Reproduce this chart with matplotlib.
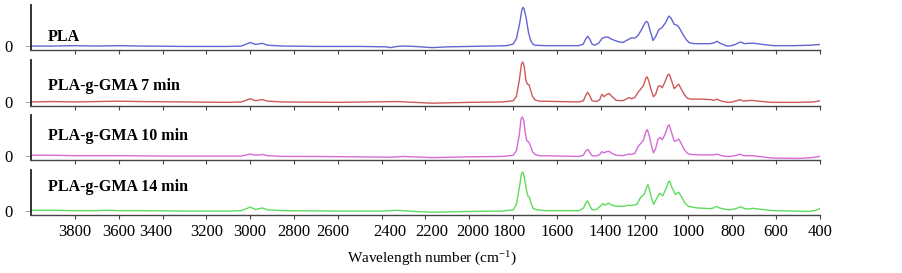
import matplotlib
matplotlib.use("Agg")
import matplotlib.pyplot as plt
import matplotlib.transforms as mtransforms

plt.rcParams['font.family'] = ['Liberation Serif', 'DejaVu Serif']
plt.rcParams['mathtext.fontset'] = 'stix'

# ---- data (wavenumber cm-1, relative absorbance) ----
pla_wn = [4000, 3900, 3800, 3700, 3600, 3500, 3300, 3100, 3040, 3000, 2975, 2945, 2920, 2850,
          2700, 2500, 2380, 2360, 2330, 2300, 2250, 2170, 2100, 2000, 1900, 1830, 1800, 1785,
          1770, 1760, 1755, 1750, 1740, 1730, 1720, 1710, 1700, 1650, 1500, 1480, 1470, 1460,
          1450, 1440, 1430, 1410, 1395, 1380, 1365, 1350, 1320, 1300, 1280, 1260, 1245, 1230,
          1215, 1200, 1192, 1185, 1175, 1162, 1150, 1135, 1120, 1105, 1090, 1080, 1065, 1050,
          1040, 1025, 1010, 995, 970, 900, 885, 870, 855, 830, 815, 790, 770, 760, 745, 725,
          700, 660, 613, 520, 450, 400]
pla_abs = [0.01, 0.01, 0.02, 0.01, 0.02, 0.01, 0.0, 0.0, 0.01, 0.10, 0.05, 0.08, 0.03, 0.01,
           0.0, 0.0, -0.01, -0.03, 0.0, 0.01, 0.0, -0.03, -0.01, 0.0, 0.01, 0.02, 0.06, 0.2,
           0.6, 0.93, 0.99, 0.95, 0.7, 0.35, 0.15, 0.06, 0.03, 0.02, 0.02, 0.06, 0.18, 0.26,
           0.18, 0.06, 0.03, 0.08, 0.2, 0.24, 0.23, 0.18, 0.12, 0.1, 0.16, 0.22, 0.21, 0.28,
           0.42, 0.58, 0.64, 0.6, 0.4, 0.15, 0.25, 0.43, 0.48, 0.6, 0.77, 0.72, 0.56, 0.53,
           0.45, 0.3, 0.17, 0.09, 0.07, 0.07, 0.09, 0.13, 0.08, 0.02, 0.01, 0.04, 0.1, 0.11,
           0.07, 0.08, 0.08, 0.05, 0.02, 0.02, 0.03, 0.05]

gma7_wn = [4000, 3900, 3800, 3700, 3600, 3500, 3300, 3100, 3040, 3000, 2975, 2945, 2920, 2850,
           2600, 2330, 2250, 2170, 2000, 1850, 1800, 1785, 1772, 1762, 1756, 1750, 1742, 1735,
           1728, 1720, 1712, 1700, 1680, 1500, 1480, 1468, 1460, 1452, 1440, 1420, 1405, 1395,
           1385, 1375, 1362, 1350, 1330, 1300, 1285, 1272, 1260, 1245, 1230, 1215, 1205, 1195,
           1188, 1180, 1170, 1160, 1150, 1138, 1128, 1120, 1108, 1095, 1088, 1078, 1065, 1055,
           1045, 1035, 1020, 1005, 990, 940, 900, 885, 870, 855, 830, 810, 780, 765, 750, 735,
           710, 680, 620, 500, 430, 400]
gma7_abs = [0.01, 0.02, 0.01, 0.02, 0.03, 0.02, 0.01, 0.0, 0.01, 0.09, 0.04, 0.07, 0.03, 0.01,
            0.0, 0.02, 0.0, -0.02, 0.0, 0.01, 0.04, 0.15, 0.55, 0.95, 1.0, 0.9, 0.55, 0.45,
            0.44, 0.3, 0.15, 0.06, 0.03, 0.01, 0.04, 0.18, 0.25, 0.18, 0.04, 0.02, 0.07, 0.2,
            0.14, 0.19, 0.22, 0.15, 0.05, 0.04, 0.08, 0.12, 0.09, 0.12, 0.25, 0.35, 0.42, 0.6,
            0.63, 0.5, 0.3, 0.14, 0.2, 0.4, 0.41, 0.36, 0.5, 0.68, 0.70, 0.55, 0.34, 0.4,
            0.45, 0.35, 0.2, 0.1, 0.08, 0.08, 0.07, 0.05, 0.08, 0.04, 0.01, 0.0, 0.04, 0.07,
            0.03, 0.04, 0.05, 0.03, 0.0, 0.0, 0.01, 0.04]

gma10_wn = [4000, 3900, 3800, 3700, 3600, 3400, 3200, 3040, 3000, 2975, 2945, 2920, 2850, 2700,
            2360, 2300, 2170, 2000, 1850, 1800, 1785, 1772, 1764, 1758, 1752, 1745, 1738, 1728,
            1720, 1712, 1700, 1680, 1500, 1480, 1468, 1460, 1452, 1440, 1420, 1405, 1395, 1385,
            1375, 1362, 1350, 1330, 1300, 1285, 1272, 1260, 1245, 1230, 1215, 1205, 1195, 1188,
            1180, 1170, 1160, 1150, 1138, 1128, 1120, 1108, 1095, 1088, 1078, 1065, 1055, 1045,
            1035, 1020, 1005, 990, 940, 900, 885, 870, 855, 830, 810, 780, 765, 750, 735, 710,
            680, 620, 500, 440, 400]
gma10_abs = [0.03, 0.03, 0.02, 0.02, 0.02, 0.01, 0.01, 0.01, 0.06, 0.03, 0.05, 0.02, 0.0, 0.0,
             -0.02, 0.0, -0.03, -0.01, 0.0, 0.03, 0.15, 0.55, 0.95, 1.0, 0.92, 0.6, 0.4, 0.36,
             0.25, 0.12, 0.05, 0.02, 0.0, 0.03, 0.14, 0.18, 0.12, 0.02, 0.01, 0.05, 0.12, 0.09,
             0.12, 0.13, 0.08, 0.03, 0.02, 0.04, 0.06, 0.05, 0.08, 0.25, 0.35, 0.42, 0.62, 0.68,
             0.55, 0.3, 0.09, 0.2, 0.45, 0.48, 0.42, 0.55, 0.76, 0.80, 0.62, 0.38, 0.4, 0.44,
             0.35, 0.18, 0.08, 0.05, 0.04, 0.04, 0.04, 0.06, 0.03, 0.0, 0.0, 0.03, 0.06, 0.02,
             0.02, 0.02, 0.0, -0.04, -0.05, -0.03, 0.0]

gma14_wn = [4000, 3900, 3800, 3700, 3650, 3600, 3500, 3300, 3100, 3040, 3000, 2975, 2945, 2920,
            2850, 2600, 2400, 2330, 2250, 2170, 2000, 1850, 1800, 1785, 1772, 1762, 1756, 1750,
            1740, 1732, 1726, 1718, 1708, 1690, 1650, 1500, 1480, 1468, 1461, 1452, 1440, 1420,
            1405, 1391, 1380, 1365, 1350, 1327, 1296, 1285, 1274, 1260, 1235, 1220, 1202, 1192,
            1185, 1178, 1168, 1159, 1148, 1132, 1117, 1105, 1092, 1086, 1075, 1060, 1045, 1030,
            1015, 1000, 962, 900, 885, 873, 860, 830, 810, 780, 760, 745, 730, 706, 680, 613,
            450, 420, 400]
gma14_abs = [0.03, 0.03, 0.02, 0.02, 0.03, 0.02, 0.02, 0.01, 0.01, 0.02, 0.11, 0.05, 0.09, 0.04,
             0.02, 0.01, 0.01, 0.03, 0.0, -0.02, 0.0, 0.01, 0.04, 0.18, 0.6, 0.96, 1.0, 0.9,
             0.55, 0.38, 0.36, 0.2, 0.07, 0.04, 0.02, 0.02, 0.08, 0.22, 0.27, 0.17, 0.04, 0.05,
             0.12, 0.2, 0.16, 0.21, 0.16, 0.13, 0.13, 0.14, 0.16, 0.15, 0.18, 0.34, 0.44, 0.6,
             0.68, 0.55, 0.32, 0.18, 0.3, 0.46, 0.40, 0.55, 0.74, 0.77, 0.6, 0.43, 0.49, 0.35,
             0.2, 0.13, 0.09, 0.07, 0.09, 0.13, 0.09, 0.05, 0.04, 0.08, 0.12, 0.07, 0.06, 0.08,
             0.06, 0.02, 0.0, 0.03, 0.07]

names = ['PLA', 'PLA-g-GMA 7 min', 'PLA-g-GMA 10 min', 'PLA-g-GMA 14 min']
colors = ['#6464d2', '#cc5a5a', '#d46cd4', '#5cdc5c']
series = [(pla_wn, pla_abs), (gma7_wn, gma7_abs), (gma10_wn, gma10_abs), (gma14_wn, gma14_abs)]

xticks = [3800, 3600, 3400, 3200, 3000, 2800, 2600, 2400, 2200, 2000, 1800, 1600, 1400,
          1200, 1000, 800, 600, 400]
# the original labels are a bit jostled along the axis (pixels)
label_shift = {3400: -7, 2600: -5, 2400: 8, 2200: 6, 2000: 3, 1800: -4, 1400: 4, 1200: -3}

# panel layout in pixels (top, bottom) and label height inside each panel
panels_px = [(5, 50), (60, 106), (115, 160), (170, 215)]
name_y = [0.29, 0.43, 0.53, 0.63]

W, H = 903, 273
fig = plt.figure(figsize=(W / 100, H / 100), dpi=100)

left, right = 31, 820
for i, ((top, bot), (wn, ab)) in enumerate(zip(panels_px, series)):
    ax = fig.add_axes([left / W, 1 - bot / H, (right - left) / W, (bot - top) / H])
    ax.plot(wn, ab, color=colors[i], lw=1.0)
    ax.set_xlim(4000, 400)
    ax.set_ylim(-0.09, 1.05)
    ax.spines['top'].set_visible(False)
    ax.spines['right'].set_visible(False)
    ax.spines['left'].set_linewidth(1.3)
    ax.spines['left'].set_color('#222222')
    ax.spines['bottom'].set_linewidth(1.0)
    ax.spines['bottom'].set_color('#444444')
    ax.set_yticks([0])
    ax.set_yticklabels(['0'])
    ax.tick_params(axis='y', length=4, width=0.6, color='#8899bb', pad=9, labelsize=12)
    ax.set_xticks(xticks)
    ax.tick_params(axis='x', direction='out', length=3, width=0.8, color='#444444', labelsize=12)
    if i < 3:
        ax.set_xticklabels([])
    else:
        ax.set_xticklabels([str(t) for t in xticks])
        for t, lab in zip(xticks, ax.get_xticklabels()):
            dx = label_shift.get(t, 0)
            if dx:
                lab.set_transform(lab.get_transform() +
                                  mtransforms.ScaledTranslation(dx / 100, 0, fig.dpi_scale_trans))
    ax.text(0.0215, name_y[i], names[i], transform=ax.transAxes, fontsize=11.5,
            fontweight='bold', va='center', ha='left')

fig.text(432 / W, 1 - 258 / H, 'Wavelength number (cm$^{\\mathregular{-1}}$)',
         ha='center', va='center', fontsize=11)

fig.savefig('out.png', dpi=100)
